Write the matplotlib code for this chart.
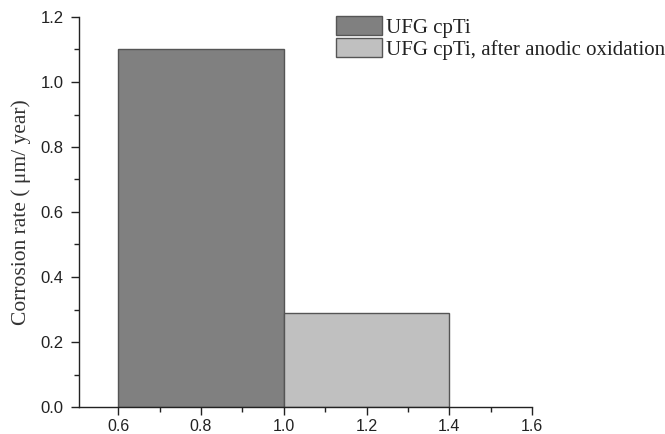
import matplotlib
matplotlib.use("Agg")
import matplotlib.pyplot as plt
from matplotlib.ticker import MultipleLocator

labels = ["UFG cpTi", "UFG cpTi, after anodic oxidation"]
left_edges = [0.6, 1.0]
widths = [0.4, 0.4]
values = [1.10, 0.29]
colors = ["#808080", "#c0c0c0"]

fig = plt.figure(figsize=(6.65, 4.34), dpi=100)
ax = fig.add_axes([79/665, 1-407/434, (532-79)/665, (407-17)/434])

for l, w, v, c, lab in zip(left_edges, widths, values, colors, labels):
    ax.bar(l, v, width=w, align="edge", color=c, edgecolor="#555555", linewidth=1.0, label=lab)

ax.set_xlim(0.505, 1.6)
ax.set_ylim(0, 1.2)
ax.xaxis.set_major_locator(MultipleLocator(0.2))
ax.xaxis.set_minor_locator(MultipleLocator(0.1))
ax.yaxis.set_major_locator(MultipleLocator(0.2))
ax.yaxis.set_minor_locator(MultipleLocator(0.1))
ax.set_xticks([0.6, 0.8, 1.0, 1.2, 1.4, 1.6])
ax.set_xticklabels(["0.6", "0.8", "1.0", "1.2", "1.4", "1.6"])

for s in ["top", "right"]:
    ax.spines[s].set_visible(False)
for s in ["left", "bottom"]:
    ax.spines[s].set_linewidth(1.0)
    ax.spines[s].set_color("#222222")

ax.tick_params(axis="both", which="major", direction="out", length=6, width=1.0, colors="#222222",
               labelsize=12, labelcolor="#222222")
ax.tick_params(axis="y", which="major", pad=5)
ax.tick_params(axis="x", which="major", pad=2.5, labelsize=11.5)
ax.tick_params(axis="both", which="minor", direction="out", length=3.5, width=1.0, colors="#222222")
for t in ax.get_xticklabels() + ax.get_yticklabels():
    t.set_family("Liberation Sans")

ax.set_ylabel("Corrosion rate ( \u03bcm/ year)", family="Liberation Serif", fontsize=15.5, color="#333333", labelpad=7)

leg = ax.legend(loc="upper left", bbox_to_anchor=((336-79)/453, 1 + 1/390), frameon=False,
                prop={"family": "Liberation Serif", "size": 15},
                handlelength=2.2, handleheight=1.06, labelspacing=0.0, borderpad=0.0,
                borderaxespad=0.0, handletextpad=0.2)
for t in leg.get_texts():
    t.set_color("#222222")

fig.savefig("out.png", dpi=100)
